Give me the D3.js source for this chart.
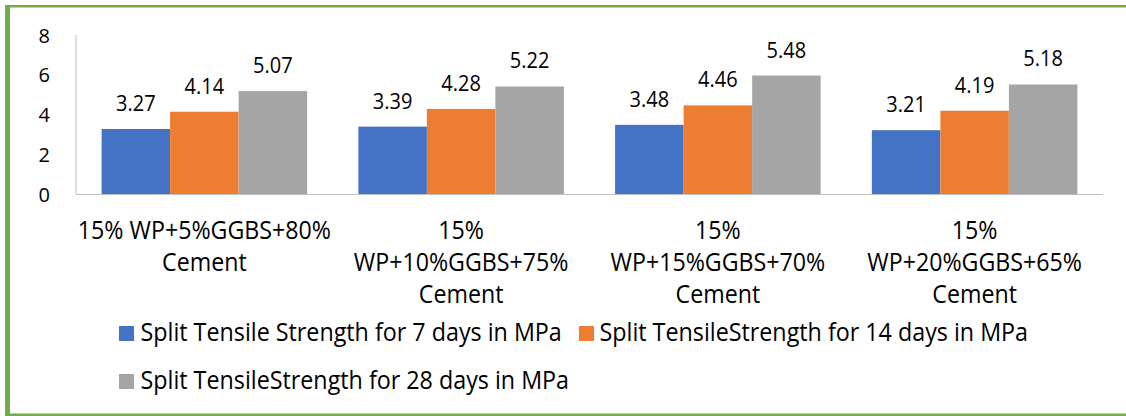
<!DOCTYPE html>
<html>
<head>
<meta charset="utf-8">
<script src="https://cdn.jsdelivr.net/npm/d3@7"></script>
<style>
  html, body { margin: 0; padding: 0; background: #fff; }
  svg { display: block; }
  text { font-family: "Open Sans", "Noto Sans", sans-serif; fill: #000; }
</style>
</head>
<body>
<svg id="chart" width="1126" height="416"></svg>
<script>
// ---- data ----
const categories = [
  "15% WP+5%GGBS+80%\nCement",
  "15%\nWP+10%GGBS+75%\nCement",
  "15%\nWP+15%GGBS+70%\nCement",
  "15%\nWP+20%GGBS+65%\nCement"
];
const seriesNames = [
  "Split Tensile Strength for 7 days in MPa",
  "Split TensileStrength for 14 days in MPa",
  "Split TensileStrength for 28 days in MPa"
];
const days7 = [3.27, 3.39, 3.48, 3.21];
const days14 = [4.14, 4.28, 4.46, 4.19];
// bar heights as drawn in the picture for the 28-day series
const days28 = [5.18, 5.41, 5.96, 5.51];
// the data labels as printed
const labels7 = ["3.27", "3.39", "3.48", "3.21"];
const labels14 = ["4.14", "4.28", "4.46", "4.19"];
const labels28 = ["5.07", "5.22", "5.48", "5.18"];
const yTicks = [0, 2, 4, 6, 8];
const colors = ["#4472C4", "#ED7D31", "#A5A5A5"];

const seriesValues = [days7, days14, days28];
const seriesLabels = [labels7, labels14, labels28];

// ---- layout ----
const svg = d3.select("#chart");
const W = 1126, H = 416;
const plotLeft = 76, plotRight = 1103, plotTop = 35, plotBottom = 194;
const stretch = 1.07; // vertical stretch of the text in the reference

// frame (green border: left, top, bottom)
const green = "#70AD47";
svg.append("rect").attr("x", 5).attr("y", 5).attr("width", 5).attr("height", H - 5).attr("fill", green);
svg.append("rect").attr("x", 5).attr("y", 5).attr("width", W - 5).attr("height", 2.5).attr("fill", green);
svg.append("rect").attr("x", 5).attr("y", 413.5).attr("width", W - 5).attr("height", 2.5).attr("fill", green);

const x0 = d3.scaleBand().domain(categories).range([plotLeft, plotRight]).paddingInner(0).paddingOuter(0);
const x1 = d3.scaleBand().domain(d3.range(seriesNames.length)).range([0, x0.bandwidth()]).paddingInner(0).paddingOuter(0.374);
const y = d3.scaleLinear().domain([0, 8]).range([plotBottom, plotTop]);

// y axis
const yAxis = d3.axisLeft(y).tickValues(yTicks).tickSize(0).tickPadding(26).tickFormat(d3.format("d"));
const gy = svg.append("g").attr("transform", `translate(${plotLeft},0)`).call(yAxis);
gy.select(".domain").remove();
gy.selectAll("text").style("font-family", '"Open Sans", sans-serif').style("font-size", "20px").attr("fill", "#000").attr("dy", "0.36em");

// y axis line
svg.append("line").attr("x1", plotLeft).attr("x2", plotLeft).attr("y1", plotTop).attr("y2", plotBottom)
  .attr("stroke", "#BFBFBF").attr("stroke-width", 1);

// bars
const groups = svg.append("g").selectAll("g").data(categories).join("g")
  .attr("transform", d => `translate(${x0(d)},0)`);

groups.each(function(cat, ci) {
  const g = d3.select(this);
  seriesNames.forEach((s, si) => {
    const v = seriesValues[si][ci];
    g.append("rect")
      .attr("x", x1(si))
      .attr("y", y(v))
      .attr("width", x1.bandwidth())
      .attr("height", y(0) - y(v))
      .attr("fill", colors[si]);
    g.append("text")
      .attr("transform", `translate(${x1(si) + x1.bandwidth() / 2},${y(v) - 18}) scale(1,1.1)`)
      .attr("text-anchor", "middle")
      .style("font-size", "20px")
      .text(seriesLabels[si][ci]);
  });
});

// baseline
svg.append("line").attr("x1", plotLeft).attr("x2", plotRight).attr("y1", plotBottom + 0.5).attr("y2", plotBottom + 0.5)
  .attr("stroke", "#BFBFBF").attr("stroke-width", 1);

// category labels
const catG = svg.append("g");
categories.forEach((c, ci) => {
  const lines = c.split("\n");
  const cx = x0(c) + x0.bandwidth() / 2;
  const t = catG.append("text").attr("text-anchor", "middle").style("font-size", "23.2px")
    .attr("transform", `translate(${cx},238.5) scale(1,${stretch})`);
  lines.forEach((ln, li) => {
    t.append("tspan").attr("x", 0).attr("y", li * 32.5 / stretch).text(ln);
  });
});

// legend
const legendItems = [
  { sx: 119, tx: 140.5, base: 341 },
  { sx: 579, tx: 599.5, base: 341 },
  { sx: 119, tx: 140.5, base: 389 }
];
seriesNames.forEach((s, si) => {
  const L = legendItems[si];
  svg.append("rect").attr("x", L.sx).attr("y", L.base - 15).attr("width", 15).attr("height", 15).attr("fill", colors[si]);
  svg.append("text").attr("transform", `translate(${L.tx},${L.base}) scale(1,${stretch})`)
    .style("font-size", "23.3px").text(s);
});
</script>
</body>
</html>
